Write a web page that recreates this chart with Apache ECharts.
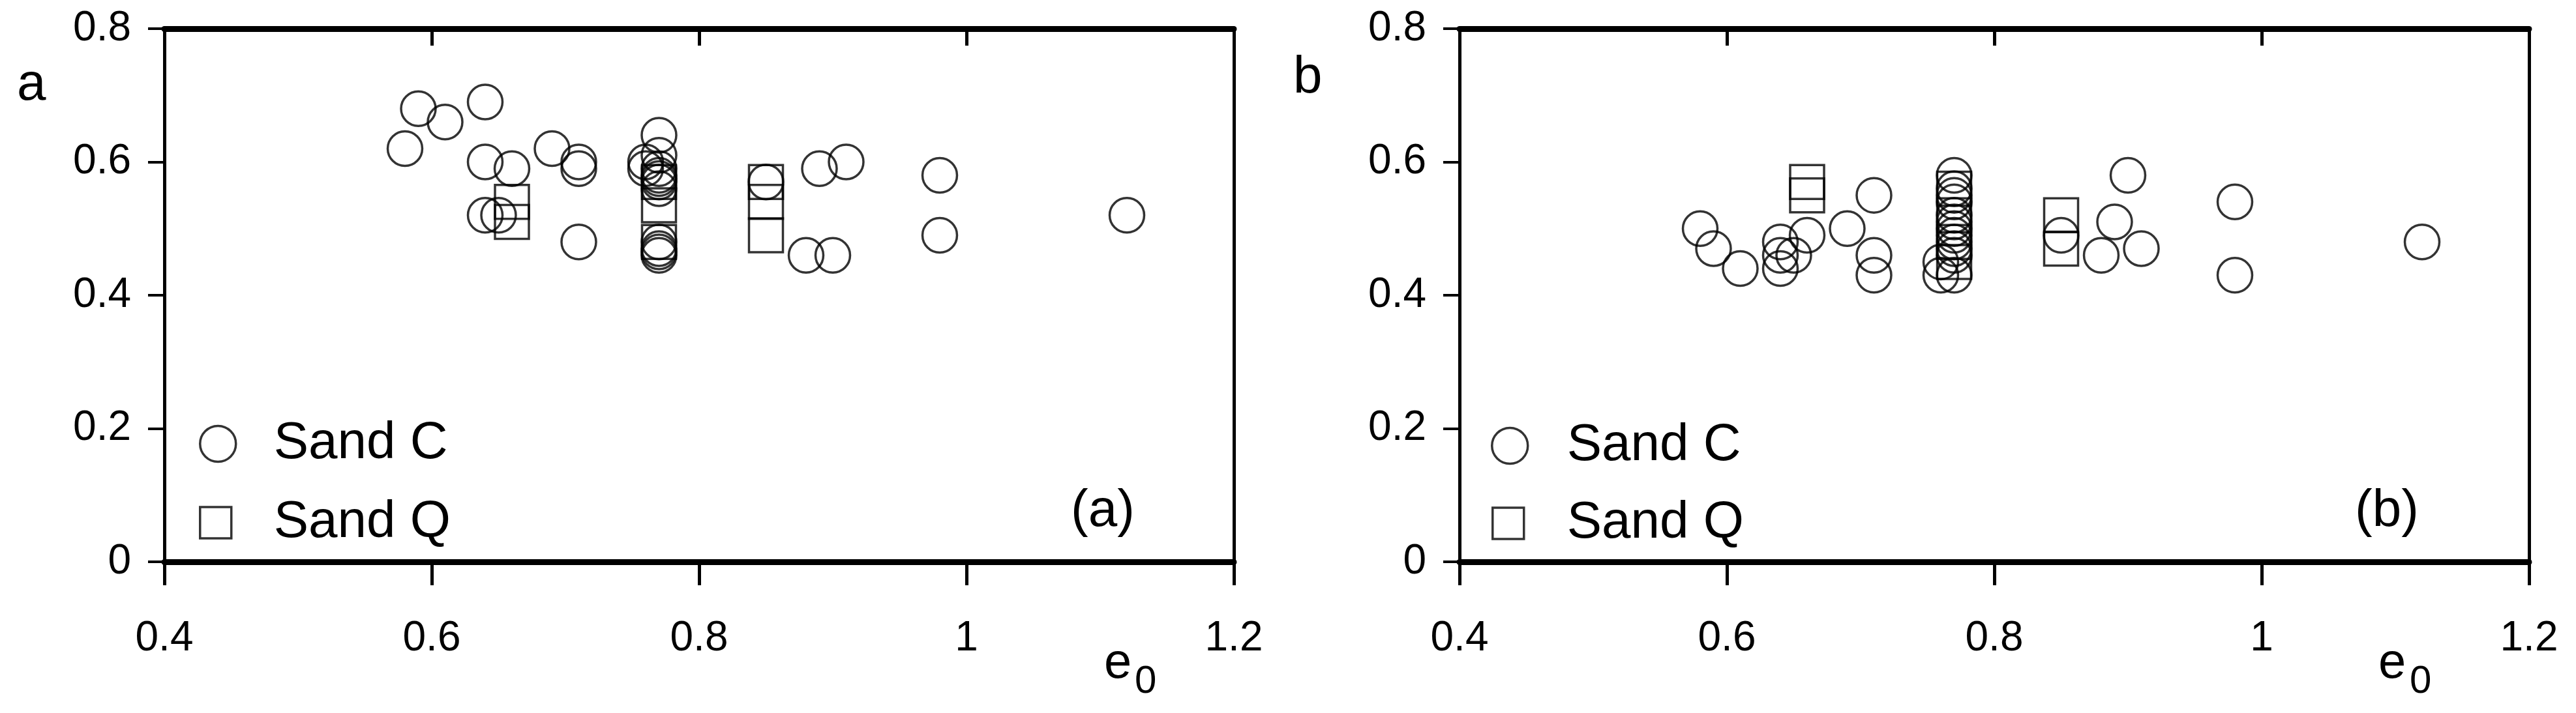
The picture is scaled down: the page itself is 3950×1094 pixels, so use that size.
<!DOCTYPE html>
<html>
<head>
<meta charset="utf-8">
<script src="https://cdn.jsdelivr.net/npm/echarts@6/dist/echarts.min.js"></script>
<style>
html,body{margin:0;padding:0;background:#fff;}
#chart{width:3950px;height:1094px;}
</style>
</head>
<body>
<div id="chart"></div>
<script>
// ---- Data ----
const xTickLabels = ['0.4', '0.6', '0.8', '1', '1.2'];
const yTickLabels = ['0', '0.2', '0.4', '0.6', '0.8'];

// Panel (a): parameter a vs e0
const aSandC_e0  = [0.58, 0.59, 0.61, 0.64, 0.64, 0.64, 0.65, 0.66, 0.69, 0.71, 0.71, 0.71,
                    0.76, 0.76,
                    0.77, 0.77, 0.77, 0.77, 0.77, 0.77, 0.77, 0.77, 0.77, 0.77, 0.77,
                    0.85, 0.88, 0.89, 0.90, 0.91, 0.98, 0.98, 1.12];
const aSandC_val = [0.62, 0.68, 0.66, 0.69, 0.60, 0.52, 0.52, 0.59, 0.62, 0.60, 0.59, 0.48,
                    0.60, 0.59,
                    0.64, 0.61, 0.59, 0.58, 0.575, 0.57, 0.56, 0.48, 0.47, 0.465, 0.46,
                    0.57, 0.46, 0.59, 0.46, 0.60, 0.58, 0.49, 0.52];
const aSandQ_e0  = [0.66, 0.66, 0.77, 0.77, 0.77, 0.85, 0.85, 0.85];
const aSandQ_val = [0.54, 0.51, 0.57, 0.535, 0.48, 0.57, 0.54, 0.49];

// Panel (b): parameter b vs e0
const bSandC_e0  = [0.58, 0.59, 0.61, 0.64, 0.64, 0.64, 0.65, 0.66, 0.69, 0.71, 0.71, 0.71,
                    0.76, 0.76,
                    0.77, 0.77, 0.77, 0.77, 0.77, 0.77, 0.77, 0.77, 0.77, 0.77, 0.77, 0.77,
                    0.85, 0.88, 0.89, 0.90, 0.91, 0.98, 0.98, 1.12];
const bSandC_val = [0.50, 0.47, 0.44, 0.48, 0.46, 0.44, 0.46, 0.49, 0.50, 0.55, 0.46, 0.43,
                    0.45, 0.43,
                    0.58, 0.56, 0.55, 0.54, 0.52, 0.51, 0.50, 0.49, 0.48, 0.47, 0.46, 0.43,
                    0.49, 0.46, 0.51, 0.58, 0.47, 0.54, 0.43, 0.48];
const bSandQ_e0  = [0.66, 0.66, 0.77, 0.77, 0.77, 0.77, 0.85, 0.85];
const bSandQ_val = [0.57, 0.55, 0.56, 0.52, 0.48, 0.45, 0.52, 0.47];

// ---- Helpers ----
const FONT = 'Liberation Sans, Arial, Helvetica, sans-serif';
function zip(xs, ys) { return xs.map((x, i) => [x, ys[i]]); }
function xFmt(v) { return xTickLabels[Math.round((v - 0.4) / 0.2)] || ''; }
function yFmt(v) { return yTickLabels[Math.round(v / 0.2)] || ''; }

const markerStyle = { color: 'rgba(0,0,0,0)', borderColor: '#000', borderWidth: 3.5 };

function bottomX(g) {
  return {
    gridIndex: g, type: 'value', position: 'bottom', min: 0.4, max: 1.2, interval: 0.2,
    axisLine: { show: true, onZero: false, lineStyle: { color: '#000', width: 9 } },
    axisTick: { show: true, inside: false, length: 36, lineStyle: { color: '#000', width: 5 } },
    axisLabel: { show: true, fontSize: 64, color: '#000', fontFamily: FONT, margin: 86, formatter: xFmt },
    splitLine: { show: false }
  };
}
function topX(g) {
  return {
    gridIndex: g, type: 'value', position: 'top', min: 0.4, max: 1.2, interval: 0.2,
    axisLine: { show: true, onZero: false, lineStyle: { color: '#000', width: 9 } },
    axisTick: { show: true, inside: true, length: 26, lineStyle: { color: '#000', width: 5 } },
    axisLabel: { show: false },
    splitLine: { show: false }
  };
}
function leftY(g) {
  return {
    gridIndex: g, type: 'value', position: 'left', min: 0, max: 0.8, interval: 0.2,
    axisLine: { show: true, onZero: false, lineStyle: { color: '#000', width: 5 } },
    axisTick: { show: true, inside: false, length: 25, lineStyle: { color: '#000', width: 4 } },
    axisLabel: { show: true, fontSize: 64, color: '#000', fontFamily: FONT, margin: 51, formatter: yFmt },
    splitLine: { show: false }
  };
}
function rightY(g) {
  return {
    gridIndex: g, type: 'value', position: 'right', min: 0, max: 0.8, interval: 0.2,
    axisLine: { show: true, onZero: false, lineStyle: { color: '#000', width: 5 } },
    axisTick: { show: false },
    axisLabel: { show: false },
    splitLine: { show: false }
  };
}
function legendBox(name, icon, left, top, size, padLeft) {
  return {
    data: [{ name: name, icon: icon }],
    left: left, top: top, orient: 'vertical', padding: 0, itemGap: 0,
    itemWidth: size, itemHeight: size, selectedMode: false,
    itemStyle: { color: 'rgba(0,0,0,0)', borderColor: '#000', borderWidth: 3.5 },
    textStyle: { fontSize: 80, color: '#000', fontFamily: FONT, padding: [0, 0, 0, padLeft] }
  };
}
function txt(text, x, y, size, align) {
  return {
    type: 'text', x: x, y: y, silent: true,
    style: {
      text: text, fill: '#000', fontSize: size, fontFamily: FONT,
      align: align, textAlign: align, verticalAlign: 'middle', textVerticalAlign: 'middle'
    }
  };
}

const chart = echarts.init(document.getElementById('chart'), null, { renderer: 'canvas' });
chart.setOption({
  backgroundColor: '#fff',
  animation: false,
  grid: [
    { left: 252, top: 44, width: 1640, height: 818 },
    { left: 2238, top: 44, width: 1640, height: 818 }
  ],
  xAxis: [bottomX(0), topX(0), bottomX(1), topX(1)],
  yAxis: [leftY(0), rightY(0), leftY(1), rightY(1)],
  legend: [
    legendBox('Sand C', 'circle', 305, 641, 55, 53),
    legendBox('Sand Q', 'rect', 305, 762, 48, 60),
    legendBox('Sand C', 'circle', 2286, 644, 55, 55),
    legendBox('Sand Q', 'rect', 2287, 763, 48, 61)
  ],
  series: [
    { name: 'Sand C', type: 'scatter', xAxisIndex: 0, yAxisIndex: 0, symbol: 'circle', symbolSize: 53,
      itemStyle: markerStyle, data: zip(aSandC_e0, aSandC_val) },
    { name: 'Sand Q', type: 'scatter', xAxisIndex: 0, yAxisIndex: 0, symbol: 'rect', symbolSize: 52,
      itemStyle: markerStyle, data: zip(aSandQ_e0, aSandQ_val) },
    { name: 'Sand C', type: 'scatter', xAxisIndex: 2, yAxisIndex: 2, symbol: 'circle', symbolSize: 53,
      itemStyle: markerStyle, data: zip(bSandC_e0, bSandC_val) },
    { name: 'Sand Q', type: 'scatter', xAxisIndex: 2, yAxisIndex: 2, symbol: 'rect', symbolSize: 52,
      itemStyle: markerStyle, data: zip(bSandQ_e0, bSandQ_val) }
  ],
  graphic: [
    txt('a', 26, 131, 80, 'left'),
    txt('b', 1983, 120, 80, 'left'),
    txt('(a)', 1691, 785, 80, 'center'),
    txt('(b)', 3660, 785, 80, 'center'),
    txt('e', 1693, 1019, 76, 'left'),
    txt('0', 1740, 1046, 60, 'left'),
    txt('e', 3647, 1019, 76, 'left'),
    txt('0', 3695, 1046, 60, 'left')
  ]
});
</script>
</body>
</html>
